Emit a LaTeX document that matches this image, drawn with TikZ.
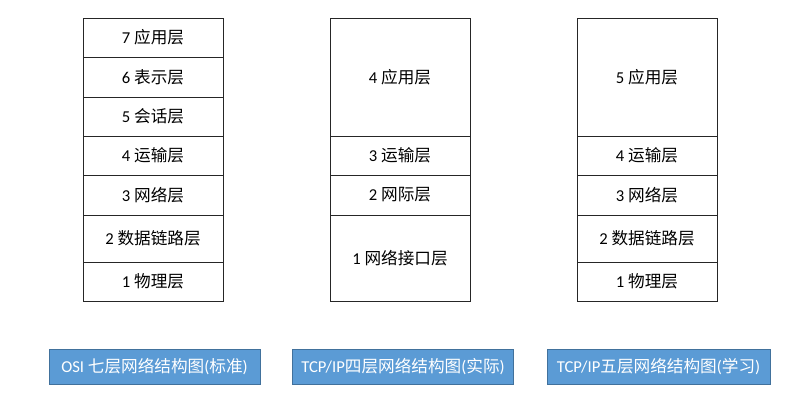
\documentclass[tikz,border=0pt]{standalone}
\usepackage{fontspec}
\setmainfont{Carlito}
\newfontfamily\cjk{Noto Sans CJK SC}
\definecolor{titlefill}{RGB}{91,155,213}
\definecolor{titleline}{RGB}{65,113,156}
\begin{document}
\begin{tikzpicture}[x=0.3mm,y=-0.3mm,
  layer/.style={draw=black!85,line width=0.8pt,minimum width=42mm,inner sep=0pt,font=\fontsize{14.2}{16}\selectfont},
  titlebox/.style={draw=titleline,fill=titlefill,line width=0.8pt,text=white,minimum height=10.5mm,inner sep=0pt,font=\fontsize{14.2}{16}\selectfont}]
  \useasboundingbox (0,0) rectangle (800,412);
  % OSI
  \node[layer,minimum height=11.7mm] (osiA) at (153,37.5) {7 {\cjk 应用层}};
  \node[layer,minimum height=12mm] (osiB) at (153,77) {6 {\cjk 表示层}};
  \node[layer,minimum height=11.7mm] (osiC) at (153,116.5) {5 {\cjk 会话层}};
  \node[layer,minimum height=11.7mm] (osiD) at (153,155.5) {4 {\cjk 运输层}};
  \node[layer,minimum height=12mm] (osiE) at (153,195) {3 {\cjk 网络层}};
  \node[layer,minimum height=14.1mm] (osiF) at (153,238.5) {2 {\cjk 数据链路层}};
  \node[layer,minimum height=11.7mm] (osiG) at (153,281.5) {1 {\cjk 物理层}};
  % TCP/IP four layers
  \node[layer,minimum height=35.4mm] (tcpA) at (400,77) {4 {\cjk 应用层}};
  \node[layer,minimum height=11.7mm] (tcpB) at (400,155.5) {3 {\cjk 运输层}};
  \node[layer,minimum height=12mm] (tcpC) at (400,195) {2 {\cjk 网际层}};
  \node[layer,minimum height=25.8mm] (tcpD) at (400,258) {1 {\cjk 网络接口层}};
  % five layers
  \node[layer,minimum height=35.4mm] (fiveA) at (647,77) {5 {\cjk 应用层}};
  \node[layer,minimum height=11.7mm] (fiveB) at (647,155.5) {4 {\cjk 运输层}};
  \node[layer,minimum height=12mm] (fiveC) at (647,195) {3 {\cjk 网络层}};
  \node[layer,minimum height=14.1mm] (fiveD) at (647,238.5) {2 {\cjk 数据链路层}};
  \node[layer,minimum height=11.7mm] (fiveE) at (647,281.5) {1 {\cjk 物理层}};
  % titles
  \node[titlebox,minimum width=63.3mm] (osiT) at (154.5,366.8) {OSI {\cjk 七层网络结构图}({\cjk 标准})};
  \node[titlebox,minimum width=66.5mm] (tcpT) at (403,366.8) {TCP/IP{\cjk 四层网络结构图}({\cjk 实际})};
  \node[titlebox,minimum width=66.9mm] (fiveT) at (658.5,366.8) {TCP/IP{\cjk 五层网络结构图}({\cjk 学习})};
\end{tikzpicture}
\end{document}
